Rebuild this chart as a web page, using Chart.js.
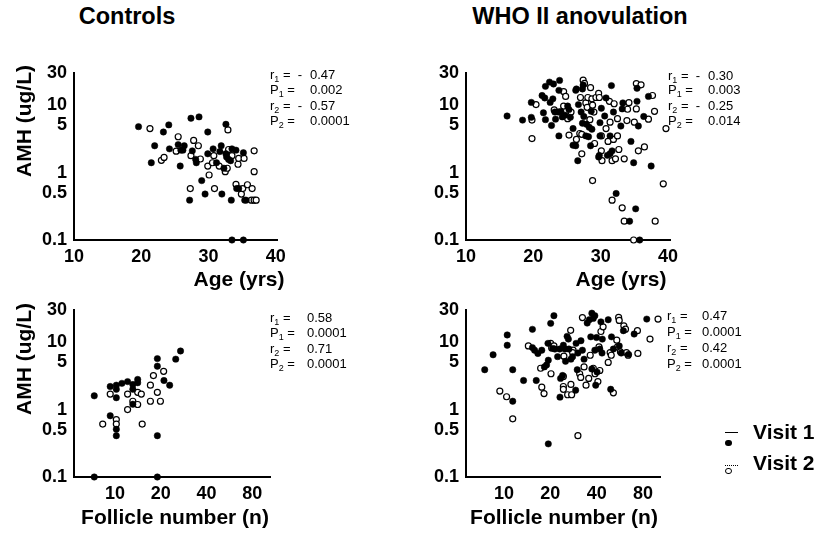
<!DOCTYPE html>
<html>
<head>
<meta charset="utf-8">
<script src="https://cdn.jsdelivr.net/npm/chart.js@4/dist/chart.umd.min.js"></script>
<style>
html, body { margin: 0; padding: 0; background: #fff; }
#page { position: relative; width: 818px; height: 533px; overflow: hidden;
        font-family: "Liberation Sans", Arial, sans-serif; color: #000; }
canvas { position: absolute; }
.t { position: absolute; white-space: nowrap; line-height: 1; font-weight: bold; }
.title { font-size: 23.5px; transform: translateX(-50%); }
.xt { font-size: 21px; transform: translateX(-50%); }
.yt { font-size: 21px; transform: translate(-50%, -50%) rotate(-90deg); }
.lg { font-size: 21px; }
.st { position: absolute; font-size: 13px; line-height: 15px; white-space: nowrap; }
.st sub { font-size: 9px; vertical-align: -3px; line-height: 0; }
.st .num { position: absolute; top: 0; }
.mk { position: absolute; box-sizing: border-box; }
</style>
</head>
<body>
<div id="page">
  <canvas id="ctrlAge" width="310" height="225" style="left:0px;top:50px"></canvas>
  <canvas id="whoAge" width="310" height="225" style="left:392px;top:50px"></canvas>
  <canvas id="ctrlFoll" width="310" height="225" style="left:0px;top:287px"></canvas>
  <canvas id="whoFoll" width="310" height="225" style="left:392px;top:287px"></canvas>

  <div class="t title" style="left:127px;top:5px">Controls</div>
  <div class="t title" style="left:580px;top:5px">WHO II anovulation</div>

  <div class="t yt" style="left:23px;top:121px">AMH (ug/L)</div>
  <div class="t yt" style="left:23px;top:359px">AMH (ug/L)</div>

  <div class="t xt" style="left:239px;top:268px">Age (yrs)</div>
  <div class="t xt" style="left:621px;top:268px">Age (yrs)</div>
  <div class="t xt" style="left:175px;top:506px">Follicle number (n)</div>
  <div class="t xt" style="left:564px;top:506px">Follicle number (n)</div>

  <div id="stats"></div>

  <!-- legend -->
  <div class="mk" style="left:725px;top:432px;width:13px;height:0;border-top:1.5px solid #000"></div>
  <div class="mk" style="left:725px;top:439.5px;width:6.5px;height:6.5px;border-radius:50%;background:#000"></div>
  <div class="t lg" style="left:753px;top:420.5px">Visit 1</div>
  <div class="mk" style="left:725px;top:464.5px;width:13px;height:0;border-top:1.5px dotted #000"></div>
  <div class="mk" style="left:725px;top:467.5px;width:6.5px;height:6.5px;border-radius:50%;border:1.2px solid #000;background:#fff"></div>
  <div class="t lg" style="left:753px;top:452px">Visit 2</div>
</div>

<script>
// AMH (ug/L) against age (yrs), controls: [age, amh]
const ctrlAgeVisit1 = [
  [19.6,4.8],[21.5,1.4],[22.0,2.5],[23.3,4.0],[24.1,5.1],[24.2,2.25],[25.5,2.6],[25.8,1.25],
  [25.9,2.15],[26.2,2.15],[26.4,2.5],[27.2,0.39],[27.4,6.4],[27.6,2.1],[28.1,1.57],[28.2,1.4],
  [28.6,6.7],[29.0,0.76],[29.5,0.48],[29.9,4.0],[29.9,1.9],[30.7,2.25],[31.2,1.4],[31.7,2.05],
  [31.9,2.5],[32.0,0.48],[32.3,1.16],[32.6,5.2],[32.6,1.9],[32.7,1.7],[33.0,1.57],[33.3,1.5],
  [33.4,0.39],[33.5,2.25],[33.5,0.1],[34.1,2.15],[34.2,0.58],[34.5,0.58],[35.2,1.97],[35.2,0.1],
  [35.4,0.39],[35.6,0.39]
];
const ctrlAgeVisit2 = [
  [21.3,4.5],[23.0,1.52],[23.4,1.68],[25.2,2.08],[25.5,3.4],[27.3,0.58],[27.4,1.78],[27.8,3.0],
  [28.5,2.5],[28.8,1.59],[29.9,1.25],[30.1,0.92],[30.6,1.4],[30.8,1.78],[30.9,0.58],[31.6,1.25],
  [32.5,1.03],[32.8,1.16],[32.9,4.3],[33.0,2.2],[33.5,1.78],[34.1,0.67],[34.4,1.33],[34.5,1.62],
  [34.9,0.48],[35.1,0.58],[35.3,1.62],[35.8,0.66],[36.5,0.58],[36.4,0.39],[36.8,0.39],[37.1,0.39],
  [36.8,2.1],[36.8,1.03]
];

// AMH against age, WHO II anovulation
const whoAgeVisit1 = [
  [16.1,6.9],[18.4,6.0],[19.7,11],[19.7,6.6],[21.3,13.9],[21.7,12.8],[21.8,19],[21.5,7.7],
  [21.8,6.1],[22.4,22],[22.7,5.0],[23.0,20.6],[22.5,11],[22.9,12.4],[23.2,7.9],[23.3,6.2],
  [23.8,3.5],[23.9,23.3],[23.8,16.6],[23.7,7.9],[24.1,8.1],[24.3,6.7],[24.7,7.1],[25.1,9.7],
  [25.3,8.6],[25.5,6.6],[25.9,4.5],[25.9,2.55],[26.3,2.5],[26.3,16.6],[26.4,17.4],[26.6,1.5],
  [26.7,10.2],[27.1,7.9],[27.3,17.4],[27.4,19.9],[27.5,6.8],[27.3,5.4],[27.8,3.5],[27.9,5.2],
  [28.2,3.4],[28.3,4.7],[28.5,2.5],[28.7,4.4],[28.6,8.1],[29.7,1.7],[29.8,1.8],[29.9,5.5],
  [30.1,9.0],[29.9,3.5],[30.6,6.9],[30.8,12.8],[31.0,1.8],[31.4,1.9],[31.6,19.5],[31.4,3.5],
  [31.7,2.1],[31.9,7.9],[32.3,0.49],[33.0,4.9],[33.3,10.8],[33.2,8.8],[34.5,2.9],[34.3,0.19],
  [35.2,0.29],[34.9,1.4],[35.4,11.4],[35.4,17.8],[35.6,4.9],[35.8,0.1],[36.4,6.8],[37.1,13.5],
  [37.5,1.25]
];
const whoAgeVisit2 = [
  [19.8,3.2],[19.8,6.0],[20.4,10.2],[23.1,8.5],[24.5,15.9],[24.8,13.5],[24.5,9.7],[25.1,6.3],
  [25.3,3.6],[25.6,7.9],[26.4,3.1],[26.9,3.8],[27.2,3.7],[27.2,1.9],[27.4,23.5],[27.6,21],
  [27.0,13],[27.8,10.8],[28.0,9.3],[28.5,18.2],[28.4,6.1],[28.1,13],[28.7,12.4],[28.8,10],
  [29.0,7.9],[29.1,2.7],[28.8,0.76],[29.3,13],[29.7,15],[29.8,13],[30.1,2.1],[30.2,1.5],
  [30.1,3.5],[30.8,4.5],[31.1,2.9],[31.4,5.6],[31.3,11.4],[31.7,1.5],[31.7,0.39],[31.9,3.1],
  [32.2,1.6],[32.5,3.5],[32.7,2.2],[32.0,10.5],[32.5,6.3],[33.2,0.3],[33.5,1.6],[33.5,0.19],
  [33.9,5.9],[34.0,8.7],[34.2,10.9],[35.3,20.9],[35.3,8.8],[35.0,5.6],[34.9,0.1],[35.6,2.1],
  [36.0,20],[36.5,2.4],[37.1,6.2],[37.7,13.9],[38.0,8.1],[38.1,0.19],[39.3,0.68],[39.7,4.5]
];

// AMH against follicle number (n), controls
const ctrlFollVisit1 = [
  [7.3,1.6],[7.3,0.1],[9.3,2.2],[9.3,0.81],[10.2,2.3],[10.2,2.0],[10.2,1.5],[10.2,0.51],
  [10.2,0.41],[11.1,2.45],[12.1,2.6],[13.1,2.35],[13.1,2.0],[13.1,1.2],[14.1,2.8],[14.1,2.5],
  [19,5.7],[19,4.4],[19,0.41],[19,0.1],[21,2.7],[22.9,2.3],[25.1,5.6],[27,7.4]
];
const ctrlFollVisit2 = [
  [8.3,0.61],[9.3,1.7],[10.2,0.71],[10.2,0.61],[12.1,1.7],[12.1,1.0],[13.1,1.33],[14.1,1.19],
  [14.1,1.8],[14.9,1.7],[15.1,0.61],[17.1,2.3],[17.1,1.33],[17.9,3.2],[19,1.8],[19.9,1.33],
  [20.9,3.7]
];

// AMH against follicle number, WHO II anovulation
const whoFollVisit1 = [
  [7.5,3.9],[8.5,6.5],[10.5,12.8],[10.5,9.0],[11.4,3.9],[11.4,1.33],[13.4,2.7],[15.3,15.5],
  [15.3,8.3],[15.8,7.6],[16.2,2.7],[16.6,6.8],[17.6,7.6],[18.3,4.3],[18.9,4.6],[19.4,0.31],
  [19.3,9.6],[19.4,5.4],[20.1,19],[21.1,24.7],[20.7,8.1],[21.4,7.9],[22.3,6.1],[23.0,7.9],
  [23.1,1.53],[23.3,2.9],[24.0,3.2],[24.3,9.0],[24.9,7.9],[25.1,5.2],[25.7,12.2],[26.2,11.1],
  [26.4,7.9],[27.2,5.6],[27.9,6.1],[29.2,1.94],[29.4,9.6],[29.9,3.9],[30.2,6.9],[31.6,10.5],
  [32.3,7.6],[33.1,5.6],[34.7,19.2],[35.8,21.5],[37.2,26.9],[38.0,22.5],[36.6,12],[37.2,4.0],
  [38.9,24.7],[38.9,7.6],[39.4,2.3],[39.9,11.7],[40.2,3.6],[42.6,20],[43.5,11.1],[41.9,7.9],
  [43.3,6.9],[47.5,21.5],[49.3,2.0],[49.9,12],[51.3,7.9],[56,8.8],[59.6,14.8],[57.7,6.9],
  [64.4,6.6],[70,13.2],[84.5,22]
];
const whoFollVisit2 = [
  [9.4,1.88],[10.4,1.55],[11.4,0.73],[14.4,8.8],[17.3,4.1],[17.6,2.15],[18.2,1.73],[20.1,9.6],
  [20.4,8.2],[20.2,3.4],[21.1,8.8],[24.3,3.1],[24.3,2.2],[24.3,2.0],[24.5,6.2],[25.9,1.66],
  [27.5,1.66],[27.1,15],[27.2,2.36],[28.1,7.6],[27.9,7.0],[30.2,0.41],[31,3.4],[31.5,3.0],
  [32.3,23.2],[33.1,4.3],[34.1,2.3],[35.5,2.9],[36.3,6.4],[38,4.1],[39,3.4],[40.7,2.6],
  [42.6,14.4],[44,16.9],[41.4,8.5],[41.9,3.8],[47.5,5],[48.9,7],[51.3,1.77],[49.7,6.4],
  [54,10.7],[54.6,8.5],[55.5,23.3],[57,7.2],[56,21],[60,17.5],[61.5,15.6],[62.4,7],
  [64,6.4],[73.5,14.8],[74,6.8],[88.7,11.1],[100,22]
];

// axis tick labels
const amhTicks = [0.1, 0.5, 1, 5, 10, 30];
const ageTicks = [10, 20, 30, 40];
const follicleTicks = [10, 20, 40, 80];

// correlation statistics per panel: [label, subscript, sign, value]
const ctrlAgeStats = [['r','1','- ','0.47'],['P','1','','0.002'],['r','2','- ','0.57'],['P','2','','0.0001']];
const whoAgeStats  = [['r','1','- ','0.30'],['P','1','','0.003'],['r','2','- ','0.25'],['P','2','','0.014']];
const ctrlFollStats = [['r','1','','0.58'],['P','1','','0.0001'],['r','2','','0.71'],['P','2','','0.0001']];
const whoFollStats  = [['r','1','','0.47'],['P','1','','0.0001'],['r','2','','0.42'],['P','2','','0.0001']];

const FONT = '"Liberation Sans", Arial, sans-serif';
const toPoints = pairs => pairs.map(([x, y]) => ({ x, y }));
const fixedTicks = list => scale => { scale.ticks = list.map(v => ({ value: v })); };
const tickFont = { family: FONT, size: 18, weight: 'bold' };

function makePanel(id, xType, xMin, xMax, xTicks, visit1, visit2, padRight) {
  return new Chart(document.getElementById(id), {
    type: 'scatter',
    data: {
      datasets: [
        { label: 'Visit 1', data: toPoints(visit1), pointRadius: 3.2,
          pointBackgroundColor: '#000', pointBorderColor: '#000', pointBorderWidth: 0.5, clip: false },
        { label: 'Visit 2', data: toPoints(visit2), pointRadius: 3,
          pointBackgroundColor: '#fff', pointBorderColor: '#000', pointBorderWidth: 1.2, clip: false }
      ]
    },
    options: {
      responsive: false, animation: false, devicePixelRatio: 1, events: [],
      layout: { padding: { left: 0, top: 23, right: padRight, bottom: 0 } },
      plugins: { legend: { display: false }, tooltip: { enabled: false } },
      scales: {
        x: {
          type: xType, min: xMin, max: xMax, bounds: 'data',
          afterBuildTicks: fixedTicks(xTicks),
          afterFit: s => { s.height = 35; },
          grid: { drawOnChartArea: false, drawTicks: false },
          border: { display: true, color: '#000', width: 2 },
          ticks: { autoSkip: false, maxRotation: 0, padding: 6, color: '#000', font: tickFont,
                   callback: v => String(v) }
        },
        y: {
          type: 'logarithmic', min: 0.1, max: 30, bounds: 'data',
          afterBuildTicks: fixedTicks(amhTicks),
          afterFit: s => { s.width = 74; },
          grid: { drawOnChartArea: false, drawTicks: false },
          border: { display: true, color: '#000', width: 2 },
          ticks: { autoSkip: false, padding: 7, color: '#000', font: tickFont,
                   callback: v => String(v) }
        }
      }
    }
  });
}

makePanel('ctrlAge', 'linear', 10, 40.2, ageTicks, ctrlAgeVisit1, ctrlAgeVisit2, 33);
makePanel('whoAge', 'linear', 10, 40.3, ageTicks, whoAgeVisit1, whoAgeVisit2, 32);
makePanel('ctrlFoll', 'logarithmic', 5.37, 104.8, follicleTicks, ctrlFollVisit1, ctrlFollVisit2, 40);
makePanel('whoFoll', 'logarithmic', 5.67, 103, follicleTicks, whoFollVisit1, whoFollVisit2, 42);

// statistics text blocks
function addStats(rows, left, numLeft, centers) {
  const host = document.getElementById('stats');
  rows.forEach(([lab, sub, sign, val], i) => {
    const line = document.createElement('div');
    line.className = 'st';
    line.style.left = left + 'px';
    line.style.top = (centers[i] - 7.5) + 'px';
    line.innerHTML = lab + '<sub>' + sub + '</sub> = ' + (sign ? '&nbsp;' + sign : '');
    const num = document.createElement('span');
    num.className = 'num';
    num.style.left = (numLeft - left) + 'px';
    num.textContent = val;
    line.appendChild(num);
    host.appendChild(line);
  });
}
addStats(ctrlAgeStats, 270, 310, [74, 89, 105, 120]);
addStats(whoAgeStats, 668, 708, [75, 89, 105, 120]);
addStats(ctrlFollStats, 270, 307, [317, 332, 348, 363]);
addStats(whoFollStats, 667, 702, [315, 331, 347, 363]);
</script>
</body>
</html>
